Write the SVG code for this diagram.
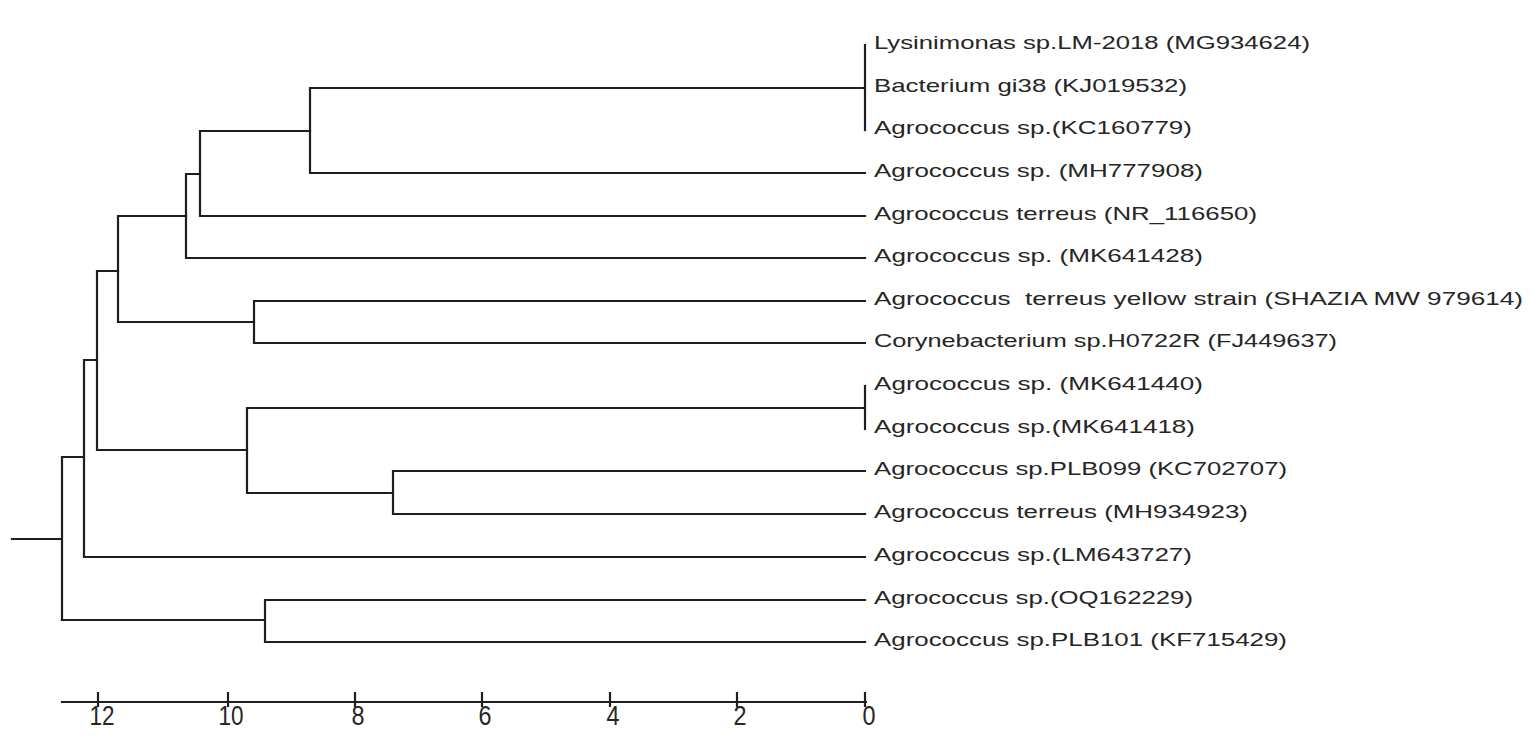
<svg xmlns="http://www.w3.org/2000/svg" width="1535" height="744" viewBox="0 0 1535 744">
<style>
.br{fill:none;stroke:#1e1e1e;stroke-width:2.2;stroke-linecap:square}
.lb{font-family:"Liberation Sans",Arial,sans-serif;font-size:18.5px;fill:#262626}
.ax{font-family:"Liberation Sans",Arial,sans-serif;font-size:28px;fill:#262626;text-anchor:middle}
</style>
<rect width="1535" height="744" fill="#ffffff"/>
<g id="connectors" class="br">
<path d="M12,539 H62 M62,457 V620 M62,457 H84 M84,360 V557 M84,360 H97 M84,557 H865"/>
<path d="M97,271 V450 M97,271 H118 M97,450 H247"/>
<path d="M118,216 V322 M118,216 H186 M118,322 H254"/>
<path d="M186,174 V258 M186,174 H200 M186,258 H865"/>
<path d="M200,131 V216 M200,131 H310 M200,216 H865"/>
<path d="M310,88 V173 M310,88 H865 M310,173 H865"/>
<path d="M865,45 V130"/>
<path d="M254,301 V343 M254,301 H865 M254,343 H865"/>
<path d="M247,408 V493 M247,408 H865 M247,493 H393"/>
<path d="M865,386 V429"/>
<path d="M393,471 V514 M393,471 H865 M393,514 H865"/>
<path d="M62,620 H265 M265,600 V642 M265,600 H865 M265,642 H865"/>
</g>
<g id="leaf1"><text class="lb" x="874" y="49" textLength="436" lengthAdjust="spacingAndGlyphs">Lysinimonas sp.LM-2018 (MG934624)</text></g>
<g id="leaf2"><text class="lb" x="874" y="92" textLength="313" lengthAdjust="spacingAndGlyphs">Bacterium gi38 (KJ019532)</text></g>
<g id="leaf3"><text class="lb" x="874" y="134" textLength="318" lengthAdjust="spacingAndGlyphs">Agrococcus sp.(KC160779)</text></g>
<g id="leaf4"><text class="lb" x="874" y="177" textLength="329" lengthAdjust="spacingAndGlyphs">Agrococcus sp. (MH777908)</text></g>
<g id="leaf5"><text class="lb" x="874" y="220" textLength="383" lengthAdjust="spacingAndGlyphs">Agrococcus terreus (NR_116650)</text></g>
<g id="leaf6"><text class="lb" x="874" y="262" textLength="329" lengthAdjust="spacingAndGlyphs">Agrococcus sp. (MK641428)</text></g>
<g id="leaf7"><text class="lb" x="874" y="305" textLength="649" lengthAdjust="spacingAndGlyphs" xml:space="preserve">Agrococcus  terreus yellow strain (SHAZIA MW 979614)</text></g>
<g id="leaf8"><text class="lb" x="874" y="347" textLength="463" lengthAdjust="spacingAndGlyphs">Corynebacterium sp.H0722R (FJ449637)</text></g>
<g id="leaf9"><text class="lb" x="874" y="390" textLength="329" lengthAdjust="spacingAndGlyphs">Agrococcus sp. (MK641440)</text></g>
<g id="leaf10"><text class="lb" x="874" y="433" textLength="321" lengthAdjust="spacingAndGlyphs">Agrococcus sp.(MK641418)</text></g>
<g id="leaf11"><text class="lb" x="874" y="475" textLength="413" lengthAdjust="spacingAndGlyphs">Agrococcus sp.PLB099 (KC702707)</text></g>
<g id="leaf12"><text class="lb" x="874" y="518" textLength="374" lengthAdjust="spacingAndGlyphs">Agrococcus terreus (MH934923)</text></g>
<g id="leaf13"><text class="lb" x="874" y="561" textLength="318" lengthAdjust="spacingAndGlyphs">Agrococcus sp.(LM643727)</text></g>
<g id="leaf14"><text class="lb" x="874" y="604" textLength="319" lengthAdjust="spacingAndGlyphs">Agrococcus sp.(OQ162229)</text></g>
<g id="leaf15"><text class="lb" x="874" y="646" textLength="413" lengthAdjust="spacingAndGlyphs">Agrococcus sp.PLB101 (KF715429)</text></g>
<g id="axis">
<path class="br" d="M62,702 H866 M98,693 V706 M228,693 V706 M355,693 V706 M482,693 V706 M610,693 V706 M737,693 V706 M865,693 V706"/>
<text class="ax" x="102" y="725" textLength="25" lengthAdjust="spacingAndGlyphs">12</text>
<text class="ax" x="231" y="725" textLength="25" lengthAdjust="spacingAndGlyphs">10</text>
<text class="ax" x="358" y="725" textLength="13" lengthAdjust="spacingAndGlyphs">8</text>
<text class="ax" x="485" y="725" textLength="13" lengthAdjust="spacingAndGlyphs">6</text>
<text class="ax" x="613" y="725" textLength="13" lengthAdjust="spacingAndGlyphs">4</text>
<text class="ax" x="740" y="725" textLength="13" lengthAdjust="spacingAndGlyphs">2</text>
<text class="ax" x="869" y="725" textLength="13" lengthAdjust="spacingAndGlyphs">0</text>
</g>
</svg>
